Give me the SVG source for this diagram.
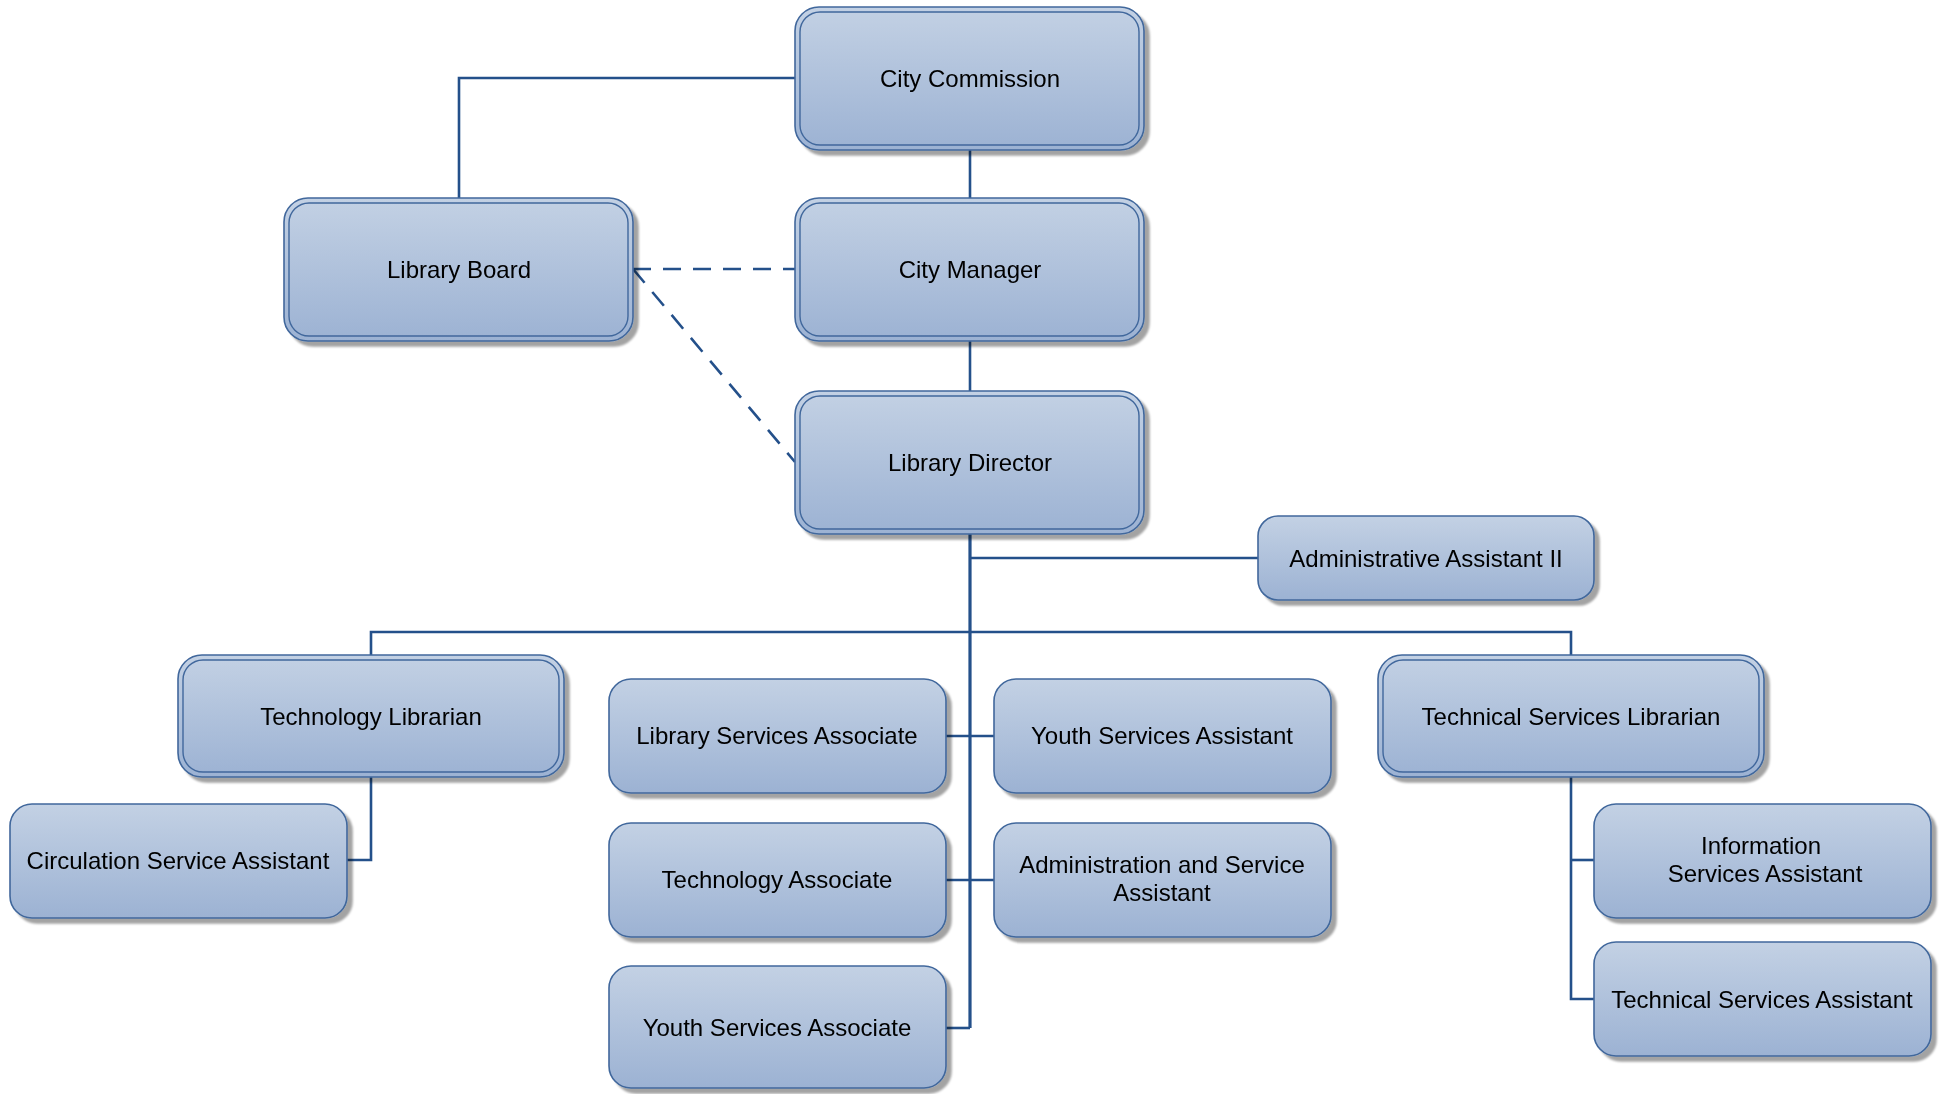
<svg xmlns="http://www.w3.org/2000/svg" width="1942" height="1094" viewBox="0 0 1942 1094">
  <defs>
    <linearGradient id="boxFill" x1="0" y1="0" x2="0" y2="1">
      <stop offset="0" stop-color="#c3d1e4"/>
      <stop offset="1" stop-color="#9cb2d3"/>
    </linearGradient>
    <filter id="shadow" x="-10%" y="-10%" width="130%" height="140%">
      <feGaussianBlur in="SourceAlpha" stdDeviation="1"/>
      <feOffset dx="4.5" dy="4.5" result="off"/>
      <feFlood flood-color="#000" flood-opacity="0.36"/>
      <feComposite in2="off" operator="in"/>
      <feMerge>
        <feMergeNode/>
        <feMergeNode in="SourceGraphic"/>
      </feMerge>
    </filter>
  </defs>
  <style>
    .box { fill: url(#boxFill); stroke: #41679c; stroke-width: 1.6; }
    .inner { fill: none; stroke: #41679c; stroke-width: 1.4; }
    .node { filter: url(#shadow); }
    .lbl { font-family: "Liberation Sans", Arial, sans-serif; font-size: 24px; fill: #000; text-anchor: middle; dominant-baseline: central; }
    .wire { fill: none; stroke: #24508a; stroke-width: 2.6; }
    .trunk { fill: none; stroke: #24508a; stroke-width: 3.2; }
    .dash { fill: none; stroke: #24508a; stroke-width: 2.6; stroke-dasharray: 18 12; }
  </style>

  <!-- connectors -->
  <g id="connectors">
    <polyline class="wire" points="795,78 459,78 459,198"/>
    <line class="wire" x1="970" y1="149" x2="970" y2="198"/>
    <line class="wire" x1="970" y1="340" x2="970" y2="391"/>
    <line class="dash" x1="633" y1="269" x2="795" y2="269"/>
    <line class="dash" x1="633" y1="269" x2="795" y2="462"/>
    <!-- director trunk -->
    <line class="trunk" x1="970" y1="533" x2="970" y2="1028"/>
    <line class="wire" x1="971" y1="558" x2="1258" y2="558"/>
    <polyline class="wire" points="371,655 371,632 1571,632 1571,655"/>
    <line class="wire" x1="946" y1="736" x2="994" y2="736"/>
    <line class="wire" x1="946" y1="880" x2="994" y2="880"/>
    <line class="wire" x1="946" y1="1028" x2="970" y2="1028"/>
    <!-- technology librarian branch -->
    <polyline class="wire" points="371,777 371,860 347,860"/>
    <!-- technical services librarian branch -->
    <polyline class="wire" points="1571,777 1571,999 1594,999"/>
    <line class="wire" x1="1571" y1="860" x2="1594" y2="860"/>
  </g>

  <!-- top-level boxes: double outline -->
  <g id="city-commission" class="node">
    <rect class="box" x="795" y="7" width="349" height="143" rx="24"/>
    <rect class="inner" x="800" y="12" width="339" height="133" rx="20"/>
    <text class="lbl" x="970" y="78">City Commission</text>
  </g>
  <g id="library-board" class="node">
    <rect class="box" x="284" y="198" width="349" height="143" rx="24"/>
    <rect class="inner" x="289" y="203" width="339" height="133" rx="20"/>
    <text class="lbl" x="459" y="269">Library Board</text>
  </g>
  <g id="city-manager" class="node">
    <rect class="box" x="795" y="198" width="349" height="143" rx="24"/>
    <rect class="inner" x="800" y="203" width="339" height="133" rx="20"/>
    <text class="lbl" x="970" y="269">City Manager</text>
  </g>
  <g id="library-director" class="node">
    <rect class="box" x="795" y="391" width="349" height="143" rx="24"/>
    <rect class="inner" x="800" y="396" width="339" height="133" rx="20"/>
    <text class="lbl" x="970" y="462">Library Director</text>
  </g>
  <g id="technology-librarian" class="node">
    <rect class="box" x="178" y="655" width="386" height="122" rx="24"/>
    <rect class="inner" x="183" y="660" width="376" height="112" rx="20"/>
    <text class="lbl" x="371" y="716">Technology Librarian</text>
  </g>
  <g id="technical-services-librarian" class="node">
    <rect class="box" x="1378" y="655" width="386" height="122" rx="24"/>
    <rect class="inner" x="1383" y="660" width="376" height="112" rx="20"/>
    <text class="lbl" x="1571" y="716">Technical Services Librarian</text>
  </g>

  <!-- staff boxes: single outline -->
  <g id="administrative-assistant-ii" class="node">
    <rect class="box" x="1258" y="516" width="336" height="84" rx="20"/>
    <text class="lbl" x="1426" y="558">Administrative Assistant II</text>
  </g>
  <g id="library-services-associate" class="node">
    <rect class="box" x="609" y="679" width="337" height="114" rx="22"/>
    <text class="lbl" x="777" y="735">Library Services Associate</text>
  </g>
  <g id="youth-services-assistant" class="node">
    <rect class="box" x="994" y="679" width="337" height="114" rx="22"/>
    <text class="lbl" x="1162" y="735">Youth Services Assistant</text>
  </g>
  <g id="technology-associate" class="node">
    <rect class="box" x="609" y="823" width="337" height="114" rx="22"/>
    <text class="lbl" x="777" y="879">Technology Associate</text>
  </g>
  <g id="administration-and-service-assistant" class="node">
    <rect class="box" x="994" y="823" width="337" height="114" rx="22"/>
    <text class="lbl" x="1162" y="864">Administration and Service</text>
    <text class="lbl" x="1162" y="892">Assistant</text>
  </g>
  <g id="youth-services-associate" class="node">
    <rect class="box" x="609" y="966" width="337" height="122" rx="22"/>
    <text class="lbl" x="777" y="1027">Youth Services Associate</text>
  </g>
  <g id="circulation-service-assistant" class="node">
    <rect class="box" x="10" y="804" width="337" height="114" rx="22"/>
    <text class="lbl" x="178" y="860">Circulation Service Assistant</text>
  </g>
  <g id="information-services-assistant" class="node">
    <rect class="box" x="1594" y="804" width="337" height="114" rx="22"/>
    <text class="lbl" x="1761" y="845">Information</text>
    <text class="lbl" x="1765" y="873">Services Assistant</text>
  </g>
  <g id="technical-services-assistant" class="node">
    <rect class="box" x="1594" y="942" width="337" height="114" rx="22"/>
    <text class="lbl" x="1762" y="999">Technical Services Assistant</text>
  </g>
</svg>
